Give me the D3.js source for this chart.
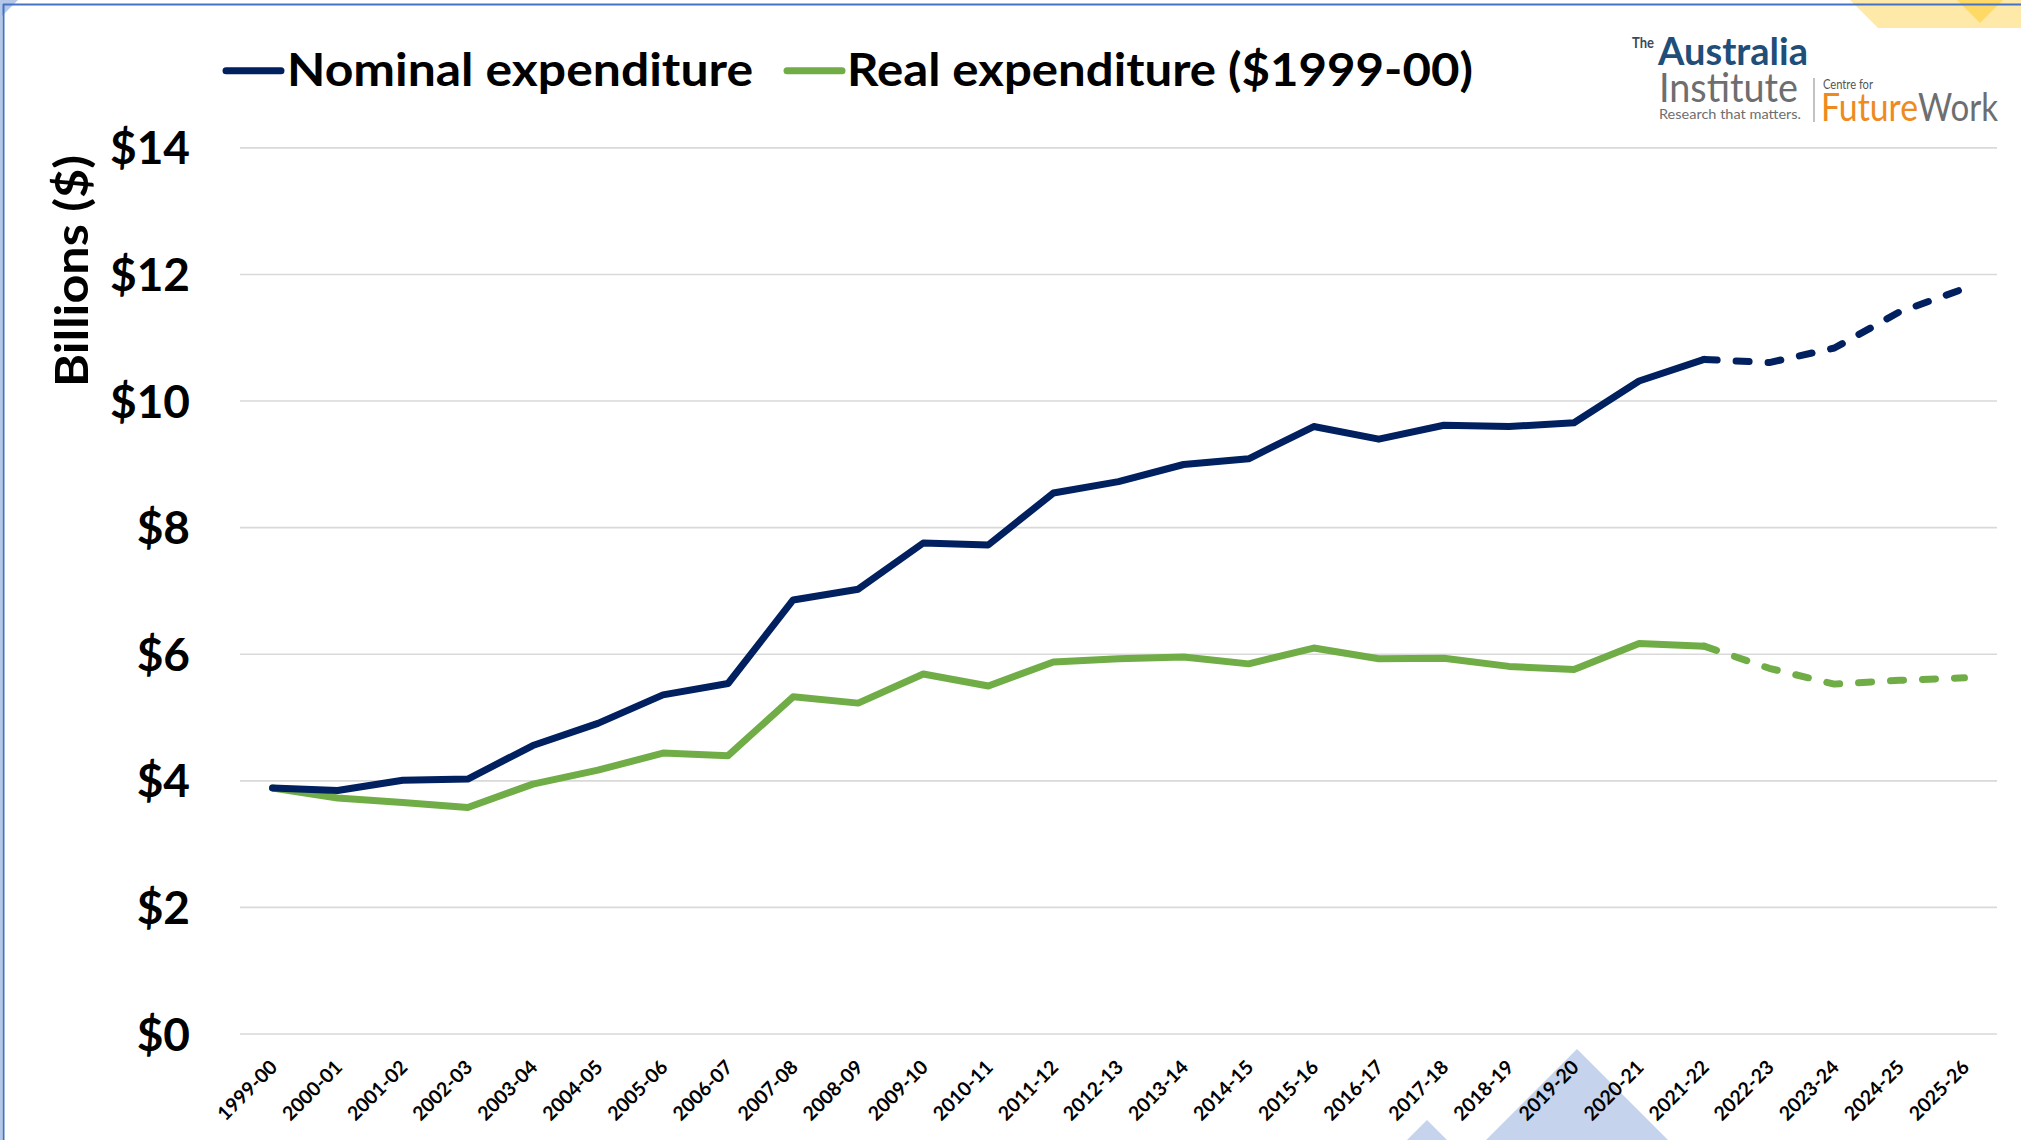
<!DOCTYPE html>
<html>
<head>
<meta charset="utf-8">
<script src="https://cdn.jsdelivr.net/npm/d3@7"></script>
<style>
  html, body { margin: 0; padding: 0; background: #fff; }
  svg { display: block; }
  text { font-family: Lato, "Open Sans", sans-serif; }
</style>
</head>
<body>
<script>
// ---------- data ----------
const categories = ["1999-00","2000-01","2001-02","2002-03","2003-04","2004-05","2005-06","2006-07",
  "2007-08","2008-09","2009-10","2010-11","2011-12","2012-13","2013-14","2014-15","2015-16",
  "2016-17","2017-18","2018-19","2019-20","2020-21","2021-22","2022-23","2023-24","2024-25","2025-26"];
const nominal = [3.88,3.84,4.00,4.02,4.55,4.90,5.35,5.53,6.85,7.02,7.75,7.72,8.54,8.72,8.99,9.08,
  9.59,9.39,9.61,9.59,9.65,10.31,10.65,10.60,10.83,11.40,11.77];
const real = [3.88,3.72,3.65,3.57,3.94,4.16,4.43,4.39,5.32,5.22,5.68,5.49,5.87,5.92,5.95,5.84,
  6.09,5.92,5.93,5.80,5.75,6.16,6.12,5.77,5.52,5.58,5.62];
const projectedFrom = "2021-22";
const yTicks = [0,2,4,6,8,10,12,14];
const seriesNames = ["Nominal expenditure", "Real expenditure ($1999-00)"];
const yTitle = "Billions ($)";

// ---------- layout ----------
const W = 2021, H = 1140;
const plot = { left: 240, right: 1997, top: 147.4, bottom: 1033.5 };
const NAVY = "#002060", GREEN = "#70AD47";

const svg = d3.select("body").append("svg").attr("width", W).attr("height", H);
svg.append("rect").attr("width", W).attr("height", H).attr("fill", "#fff");

// decorative shapes
const deco = svg.append("g");
deco.append("polygon").attr("points", "0,0 18,0 0,18").attr("fill", "#B4C7E7");
deco.append("polygon").attr("points", "1850,0 2021,0 2021,28 1878,28").attr("fill", "#FFE9A8");
deco.append("polygon").attr("points", "1957,0 2003,0 1980,23").attr("fill", "#FFD966");
deco.append("polygon").attr("points", "1577,1049 1668,1140 1486,1140").attr("fill", "#C5D3ED");
deco.append("polygon").attr("points", "1427,1120 1447,1140 1407,1140").attr("fill", "#C5D3ED");
deco.append("line").attr("x1", 3).attr("x2", W).attr("y1", 4.5).attr("y2", 4.5)
  .attr("stroke", "#4472C4").attr("stroke-width", 2);
deco.append("line").attr("x1", 3.5).attr("x2", 3.5).attr("y1", 4).attr("y2", H)
  .attr("stroke", "#4472C4").attr("stroke-width", 2);
deco.append("line").attr("x1", 1).attr("x2", 1).attr("y1", 0).attr("y2", H)
  .attr("stroke", "#B4C7E7").attr("stroke-width", 2);

// scales
const x = d3.scaleBand().domain(categories).range([plot.left, plot.right]);
const cx = c => x(c) + x.bandwidth() / 2;
const y = d3.scaleLinear().domain([0, 14]).range([plot.bottom, plot.top]);

// y axis + gridlines
const yAxis = svg.append("g").attr("transform", `translate(${plot.left},0)`)
  .call(d3.axisLeft(y).tickValues(yTicks).tickFormat(d => "$" + d)
    .tickSize(-(plot.right - plot.left)).tickPadding(50));
yAxis.select(".domain").remove();
yAxis.selectAll(".tick line").attr("stroke", "#D9D9D9").attr("stroke-width", 1.6);
yAxis.selectAll(".tick text").attr("fill", "#000").attr("font-size", 46)
  .attr("font-weight", 700).attr("dy", "0.36em").style("font-family", "Lato, sans-serif");

// x axis
const xAxis = svg.append("g").attr("transform", `translate(0,${plot.bottom})`)
  .call(d3.axisBottom(x).tickSize(0));
xAxis.select(".domain").remove();
xAxis.selectAll(".tick text")
  .attr("fill", "#000").attr("font-size", 19.5).attr("font-weight", 700)
  .attr("text-anchor", "end").attr("x", 6).attr("y", 35).attr("dy", 0)
  .attr("transform", "rotate(-45,6,35)").style("font-family", "Lato, sans-serif");

// y title
svg.append("text").attr("transform", "translate(88,271) rotate(-90)")
  .attr("text-anchor", "middle").attr("font-size", 46).attr("font-weight", 700)
  .attr("textLength", 232).attr("lengthAdjust", "spacingAndGlyphs")
  .text(yTitle);

// lines
const pIdx = categories.indexOf(projectedFrom);
const line = d3.line().x(d => cx(d.c)).y(d => y(d.v));
function drawSeries(vals, color) {
  const pts = categories.map((c, i) => ({ c, v: vals[i] }));
  svg.append("path").datum(pts.slice(0, pIdx + 1)).attr("d", line)
    .attr("fill", "none").attr("stroke", color).attr("stroke-width", 7)
    .attr("stroke-linejoin", "round").attr("stroke-linecap", "round");
  svg.append("path").datum(pts.slice(pIdx)).attr("d", line)
    .attr("fill", "none").attr("stroke", color).attr("stroke-width", 7)
    .attr("stroke-linejoin", "round").attr("stroke-linecap", "round")
    .attr("stroke-dasharray", "13,19");
}
drawSeries(real, GREEN);
drawSeries(nominal, NAVY);

// legend
const legend = svg.append("g");
[[NAVY, 226, 281, 287, 466], [GREEN, 787, 842, 847, 626]].forEach((L, i) => {
  legend.append("line").attr("x1", L[1]).attr("x2", L[2]).attr("y1", 70.7).attr("y2", 70.7)
    .attr("stroke", L[0]).attr("stroke-width", 7).attr("stroke-linecap", "round");
  legend.append("text").attr("x", L[3]).attr("y", 86).attr("font-size", 46).attr("font-weight", 700)
    .attr("textLength", L[4]).attr("lengthAdjust", "spacingAndGlyphs").text(seriesNames[i]);
});

// logo
const logo = svg.append("g");
function lt(txt, xx, yy, size, weight, color, len) {
  logo.append("text").attr("x", xx).attr("y", yy).attr("font-size", size)
    .attr("font-weight", weight).attr("fill", color)
    .attr("textLength", len).attr("lengthAdjust", "spacingAndGlyphs").text(txt);
}
lt("The", 1632, 48, 15, 700, "#3b4a5e", 22);
lt("Australia", 1658, 65, 38, 700, "#1F4E79", 150);
lt("Institute", 1659, 102, 40, 400, "#6D6E70", 139);
lt("Research that matters.", 1659, 119, 13, 400, "#6D6E70", 142);
logo.append("line").attr("x1", 1814).attr("x2", 1814).attr("y1", 78).attr("y2", 122)
  .attr("stroke", "#999").attr("stroke-width", 1.2);
lt("Centre for", 1823, 89, 14, 400, "#555", 50);
lt("Future", 1821, 121, 38, 400, "#EE8A1E", 97);
lt("Work", 1918, 121, 38, 400, "#6D6E70", 80);
</script>
</body>
</html>
